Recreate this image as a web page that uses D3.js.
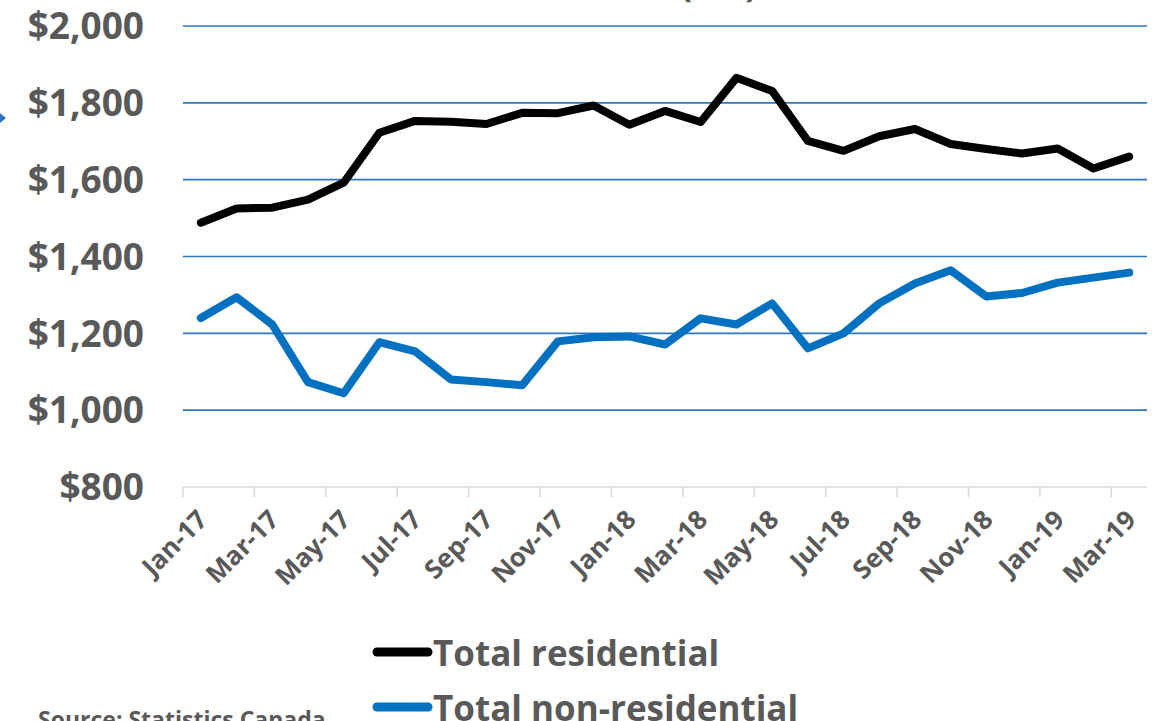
<!DOCTYPE html>
<html>
<head>
<meta charset="utf-8">
<script src="https://cdn.jsdelivr.net/npm/d3@7"></script>
<style>
  body { margin: 0; background: #fff; overflow: hidden; }
  text { font-family: "Open Sans", sans-serif; font-weight: 700; fill: #595959; }
</style>
</head>
<body>
<svg id="chart" width="1152" height="721"></svg>
<script>
var months = ['Jan-17','Feb-17','Mar-17','Apr-17','May-17','Jun-17','Jul-17','Aug-17','Sep-17','Oct-17','Nov-17','Dec-17',
  'Jan-18','Feb-18','Mar-18','Apr-18','May-18','Jun-18','Jul-18','Aug-18','Sep-18','Oct-18','Nov-18','Dec-18',
  'Jan-19','Feb-19','Mar-19'];
var residential = [1488,1525,1527,1548,1592,1722,1753,1751,1745,1774,1773,1793,1743,1779,1750,1865,1831,1701,1675,1713,1732,1693,1680,1668,1681,1629,1660];
var nonResidential = [1240,1294,1223,1073,1044,1177,1153,1080,1073,1065,1179,1190,1192,1171,1239,1223,1278,1161,1200,1278,1330,1364,1296,1305,1332,1345,1358];
var yTicks = [800,1000,1200,1400,1600,1800,2000];
var seriesNames = ['Total residential','Total non-residential'];
var seriesColors = ['#000000','#0070C0'];

var svg = d3.select('#chart');
var fmt = d3.format(',');

var x = d3.scaleBand().domain(months).range([183, 1147]).padding(0);
var y = d3.scaleLinear().domain([800, 2000]).range([487, 26]);
var cx = function (m) { return x(m) + x.bandwidth() / 2; };

// gridlines
svg.append('g')
  .selectAll('line')
  .data(yTicks.filter(d => d > 800))
  .enter()
  .append('line')
  .attr('x1', 183).attr('x2', 1147)
  .attr('y1', d => y(d)).attr('y2', d => y(d))
  .style('stroke', '#2E75C2')
  .style('stroke-width', 1.6);

// y labels
svg.append('g')
  .selectAll('text')
  .data(yTicks)
  .enter()
  .append('text')
  .attr('x', 144)
  .attr('y', d => y(d))
  .attr('dy', '0.36em')
  .attr('text-anchor', 'end')
  .style('font-size', '37px')
  .text(d => '$' + fmt(d));

// x axis line + ticks every 2 months
svg.append('line')
  .attr('x1', 183).attr('x2', 1147)
  .attr('y1', y(800)).attr('y2', y(800))
  .style('stroke', '#D9D9D9').style('stroke-width', 1.5);

var labelMonths = months.filter((m, i) => i % 2 == 0);
svg.append('g')
  .selectAll('line')
  .data(labelMonths)
  .enter()
  .append('line')
  .attr('x1', d => x(d)).attr('x2', d => x(d))
  .attr('y1', y(800)).attr('y2', y(800) + 10)
  .style('stroke', '#D9D9D9').style('stroke-width', 1.5);

svg.append('g')
  .selectAll('text')
  .data(labelMonths)
  .enter()
  .append('text')
  .attr('transform', d => 'translate(' + (cx(d) - 5) + ',' + 508 + ') rotate(-45)')
  .attr('text-anchor', 'end')
  .attr('dy', '0.72em')
  .style('font-size', '26px')
  .text(d => d);

// lines
var line = d3.line()
  .x((d, i) => cx(months[i]))
  .y(d => y(d));

[residential, nonResidential].forEach(function (s, i) {
  svg.append('path')
    .datum(s)
    .attr('d', line)
    .style('fill', 'none')
    .style('stroke', seriesColors[i])
    .style('stroke-width', 8)
    .style('stroke-linejoin', 'round')
    .style('stroke-linecap', 'round');
});

// legend
var legend = svg.append('g').attr('class', 'legend');
seriesNames.forEach(function (name, i) {
  var ly = 652 + i * 55;
  legend.append('line')
    .attr('x1', 377).attr('x2', 428)
    .attr('y1', ly).attr('y2', ly)
    .style('stroke', seriesColors[i])
    .style('stroke-width', 9)
    .style('stroke-linecap', 'round');
  legend.append('text')
    .attr('x', 433)
    .attr('y', ly + 14)
    .style('font-size', '35px')
    .text(name);
});

// cut-off title, source, stray arrow
svg.append('text')
  .attr('x', 757).attr('y', -3)
  .attr('text-anchor', 'end')
  .style('font-size', '35px')
  .text('($M)');

svg.append('text')
  .attr('x', 38).attr('y', 728)
  .style('font-size', '23px')
  .text('Source: Statistics Canada');

svg.append('path')
  .attr('d', 'M0,113 L6,118 L0,123 Z')
  .style('fill', '#2E75C2');
</script>
</body>
</html>
